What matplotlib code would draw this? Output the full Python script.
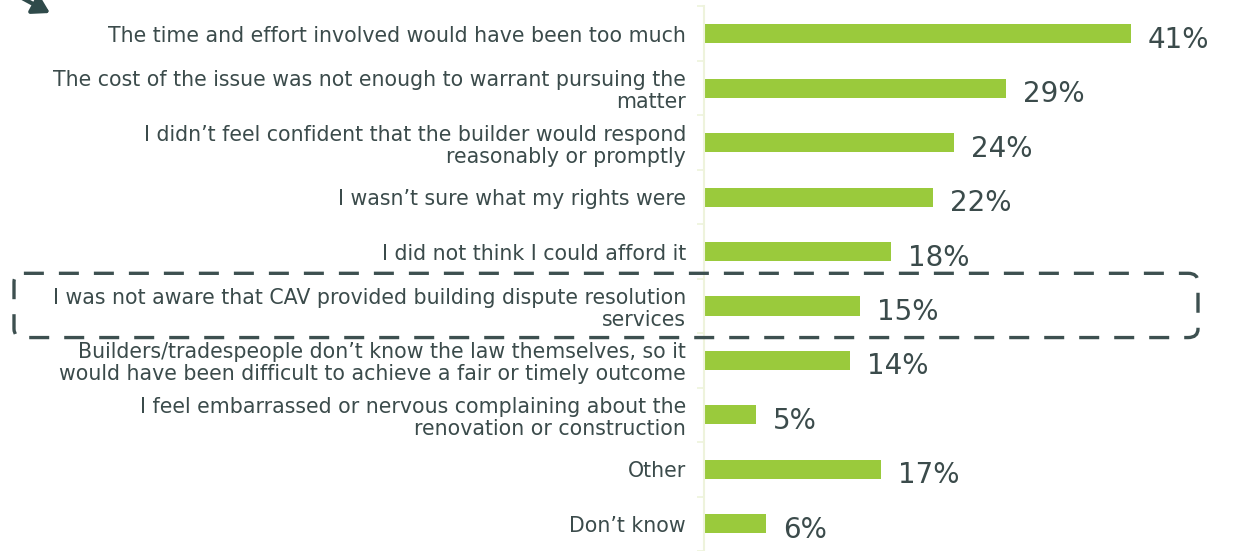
import matplotlib
matplotlib.use("Agg")
import matplotlib.pyplot as plt
from matplotlib.patches import FancyBboxPatch, FancyArrowPatch
import matplotlib.transforms as mtransforms

categories = [
    "The time and effort involved would have been too much",
    "The cost of the issue was not enough to warrant pursuing the\nmatter",
    "I didn\u2019t feel confident that the builder would respond\nreasonably or promptly",
    "I wasn\u2019t sure what my rights were",
    "I did not think I could afford it",
    "I was not aware that CAV provided building dispute resolution\nservices",
    "Builders/tradespeople don\u2019t know the law themselves, so it\nwould have been difficult to achieve a fair or timely outcome",
    "I feel embarrassed or nervous complaining about the\nrenovation or construction",
    "Other",
    "Don\u2019t know",
]
values = [41, 29, 24, 22, 18, 15, 14, 5, 17, 6]
value_labels = ["41%", "29%", "24%", "22%", "18%", "15%", "14%", "5%", "17%", "6%"]
highlight_index = 5

BAR = "#9aca3c"
TEXT = "#3b4b4b"
AXIS = "#eef3dc"

W, H = 1235, 551
fig = plt.figure(figsize=(W / 100, H / 100), dpi=100)
ax_left = 704 / W
ax = fig.add_axes([ax_left, 0.0, 1 - ax_left, (H - 6.5) / H])
ax.set_xlim(0, 51)
n = len(values)
ax.set_ylim(-0.5 + (H - 6.5) / 54.9, -0.5)

y = list(range(n))
ax.barh(y, values, height=0.35, color=BAR, edgecolor="none")

for i, (v, lab) in enumerate(zip(values, value_labels)):
    ax.annotate(lab, xy=(v, i), xytext=(17, -6), textcoords="offset pixels",
                ha="left", va="center", fontsize=20, color=TEXT,
                family="DejaVu Sans")

ax.set_yticks(y)
ax.set_yticklabels(categories, fontsize=14.8, color=TEXT,
                   family="DejaVu Sans", linespacing=1.12)
ax.tick_params(axis="y", which="major", length=0, pad=13)
ax.set_yticks([k - 0.5 for k in range(n + 1)], minor=True)
ax.tick_params(axis="y", which="minor", length=5, color=AXIS, width=1.2)
ax.set_xticks([])
for s in ["top", "right", "bottom"]:
    ax.spines[s].set_visible(False)
ax.spines["left"].set_color(AXIS)
ax.spines["left"].set_linewidth(1.5)

# dashed highlight box around the highlighted row
trans = mtransforms.blended_transform_factory(fig.transFigure, ax.transData)
box = FancyBboxPatch((14 / W, highlight_index - 0.6), (1198 - 14) / W, 1.18,
                     boxstyle="round,pad=0,rounding_size=0.008",
                     transform=trans, fill=False, edgecolor="#3d5050",
                     linewidth=2.4, linestyle=(0, (6, 4.5)), clip_on=False,
                     mutation_aspect=20)
fig.add_artist(box)

# arrow at top-left
fig.add_artist(FancyArrowPatch(
    (-15 / W, 1 + 22 / H), (50 / W, 1 - 13 / H), transform=fig.transFigure,
    arrowstyle="-|>,head_length=10,head_width=6", color="#2f4a4a",
    linewidth=3.0, mutation_scale=1, shrinkA=0, shrinkB=0))

fig.savefig("out.png", dpi=100)
